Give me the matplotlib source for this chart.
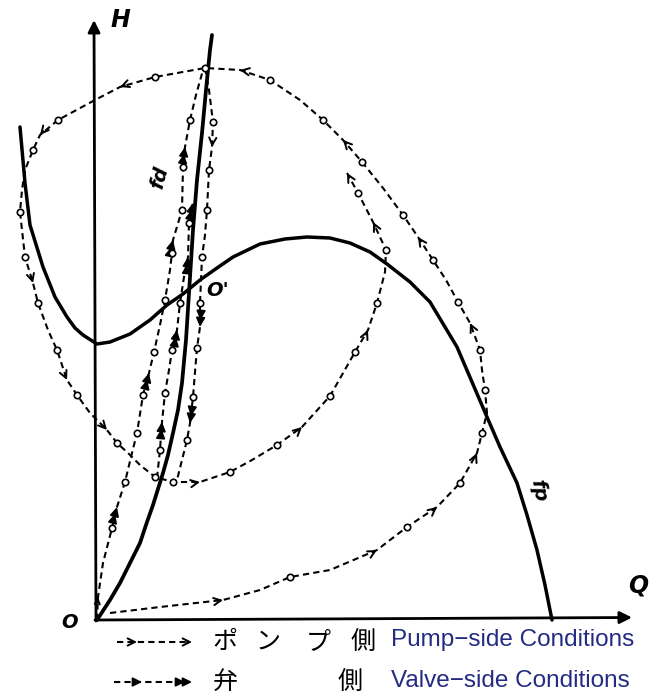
import numpy as np
import matplotlib.pyplot as plt

plt.rcParams['font.family'] = ['DejaVu Sans']

# pump characteristic fp (Q, H)
fp_q = [-15.4, -14.4, -13.4, -10.8, -8.4, -6.0, -4.4, -2.8, 0.0, 2.6, 6.6, 10.6, 14.0, 17.2,
        20.6, 24.0, 27.2, 32.6, 37.6, 42.0, 46.6, 50.6, 54.6, 58.0, 62.6, 66.6, 72.0, 78.0,
        80.6, 84.0, 86.0, 88.0, 89.6, 91.0]
fp_h = [98.6, 87.4, 79.0, 70.6, 64.6, 60.6, 58.4, 57.0, 55.2, 55.6, 57.2, 60.0, 63.0, 65.2,
        68.0, 70.4, 72.6, 75.2, 76.2, 76.6, 76.4, 75.4, 73.6, 71.2, 67.6, 63.6, 54.6, 40.6,
        34.6, 27.4, 21.0, 14.0, 7.0, 0.0]

# valve characteristic fd
fd_q = [0.0, 2.6, 4.6, 6.6, 8.6, 10.0, 11.2, 13.2, 14.2, 15.2, 16.2, 17.0, 17.8, 18.4, 19.2,
        20.0, 21.0, 21.8, 22.6, 23.0]
fd_h = [0.0, 4.0, 7.4, 11.4, 15.4, 19.6, 23.0, 29.4, 33.0, 37.4, 42.0, 47.4, 56.0, 65.4, 78.0,
        88.0, 97.4, 106.0, 114.0, 117.0]

# pump-side trajectory: out along Q, round the top, down the left, back up the middle
pump_q = [2.6, 12.6, 25.2, 32.6, 38.6, 46.6, 56.0, 62.0, 68.0, 72.6, 76.0, 77.0, 78.0, 77.6,
          77.0, 76.6, 74.6, 72.2, 69.8, 67.2, 64.2, 61.2, 57.2, 53.0, 49.2, 45.2, 40.6, 34.6,
          28.6, 21.6, 11.6, 4.6, -0.4, -7.8, -11.4, -12.8, -14.4, -15.0, -15.4, -14.4, -12.8,
          -11.8, -9.8, -8.0, -6.0, -4.0, -1.4, 2.0, 4.0, 6.2, 8.6, 11.6, 15.2, 20.6, 26.6, 31.0,
          36.0, 41.0, 46.6, 51.6, 54.2, 56.0, 57.6, 57.8, 55.2, 52.2, 50.0]
pump_h = [1.4, 2.6, 4.0, 6.0, 8.6, 10.0, 14.0, 18.6, 22.6, 27.4, 33.4, 37.4, 41.4, 46.0,
          50.0, 54.0, 59.4, 63.6, 68.0, 72.0, 76.6, 81.0, 86.4, 91.6, 96.0, 100.0, 104.0, 108.0,
          110.0, 110.4, 108.6, 106.6, 104.0, 100.0, 97.0, 94.0, 90.0, 86.0, 81.6, 72.6, 67.4,
          63.4, 58.0, 54.0, 48.0, 45.0, 41.4, 38.0, 35.4, 33.4, 31.0, 28.6, 27.6, 27.6, 29.6, 32.0,
          35.0, 38.6, 44.8, 53.6, 58.0, 63.4, 69.6, 74.0, 79.6, 85.4, 89.4]
pump_circles = [4, 7, 9, 11, 13, 15, 17, 19, 21, 23, 25, 27, 29, 30, 33, 35, 38, 39, 41, 43,
                45, 48, 51, 52, 54, 56, 58, 59, 61, 63, 65]
pump_arrows = [2, 6, 8, 10, 16, 20, 24, 28, 31, 34, 40, 44, 47, 53, 57, 60, 64, 66]

# valve-side trajectories close to fd
vb_q = [0.0, 0.2, 1.2, 3.0, 4.0, 5.6, 6.8, 8.0, 9.2, 10.4, 11.4, 12.6, 13.6, 14.6, 15.0, 15.2,
        17.0, 17.2, 17.6, 18.6, 19.8, 21.2]
vb_h = [0.0, 4.6, 11.4, 18.4, 22.6, 27.6, 32.6, 37.4, 45.0, 49.4, 53.6, 59.0, 64.0, 70.0, 73.4,
        76.0, 82.0, 90.6, 94.6, 100.0, 105.0, 110.0]
vb_circles = [3, 5, 7, 8, 10, 12, 14, 16, 17, 19]
vb_arrows = [4, 9, 15, 18]

vc_q = [12.0, 12.6, 13.0, 13.6, 14.4, 15.0, 16.0, 16.6, 17.4, 18.2, 18.4, 19.2]
vc_h = [28.4, 34.0, 39.6, 45.4, 50.0, 54.0, 58.0, 63.4, 68.6, 72.6, 79.4, 83.4]
vc_circles = [1, 3, 5, 7, 10]
vc_arrows = [2, 6, 9, 11]

vd_q = [21.6, 22.4, 23.2, 23.0, 22.4, 22.0, 21.6, 21.0, 20.8, 20.6, 20.6, 20.0, 19.6, 19.2,
        18.6, 18.0, 17.0, 16.0]
vd_h = [110.4, 106.0, 99.6, 94.6, 90.0, 82.0, 77.0, 72.6, 68.0, 63.4, 58.6, 54.4, 49.6, 44.6,
        39.4, 36.0, 32.0, 28.0]
vd_circles = [2, 4, 5, 7, 9, 11, 13, 15]
vd_arrows = [10, 14]

DASH = (0, (3, 2.0))


def heads(ax, q, h, idx, style, double=False, size=13):
    q = np.asarray(q, float)
    h = np.asarray(h, float)
    for i in idx:
        j0, j1 = max(i - 1, 0), min(i + 1, len(q) - 1)
        d = np.array([q[j1] - q[j0], h[j1] - h[j0]])
        d /= np.hypot(*d)
        tip = np.array([q[i], h[i]])
        for off in ([0.0, 1.4] if double else [0.0]):
            t = tip - d * off
            ax.annotate('', xy=t, xytext=t - d * 1.0,
                        arrowprops=dict(arrowstyle=style, color='k', lw=1.4,
                                        shrinkA=0, shrinkB=0, mutation_scale=size))


def trajectory(ax, q, h, circles, arrows, style, double):
    ax.plot(q, h, color='k', lw=1.5, ls=DASH)
    ax.plot(np.take(q, circles), np.take(h, circles), 'o', ms=4.6, mfc='white',
            mec='k', mew=1.2, zorder=4)
    heads(ax, q, h, arrows, style, double)


fig = plt.figure(figsize=(6.56, 6.97), dpi=100)
ax = fig.add_axes([0, 0, 1, 1])
ax.set_xlim(-19.4, 111.8)
ax.set_ylim(-15.4, 124.0)
ax.axis('off')

# axes with arrow heads
ax.annotate('', xy=(-0.6, 120.0), xytext=(-0.2, -0.2),
            arrowprops=dict(arrowstyle='-|>', color='k', lw=2.0, mutation_scale=18,
                            shrinkA=0, shrinkB=0))
ax.annotate('', xy=(107.0, 0.5), xytext=(-0.4, 0.0),
            arrowprops=dict(arrowstyle='-|>', color='k', lw=2.0, mutation_scale=18,
                            shrinkA=0, shrinkB=0))

ax.plot(fp_q, fp_h, color='k', lw=2.5, solid_capstyle='round', solid_joinstyle='round')
ax.plot(fd_q, fd_h, color='k', lw=2.7, solid_capstyle='round', solid_joinstyle='round')

trajectory(ax, pump_q, pump_h, pump_circles, pump_arrows, '->', False)
heads(ax, vb_q, vb_h, [1], '->', size=9)
trajectory(ax, vb_q, vb_h, vb_circles, vb_arrows, '-|>', True)
trajectory(ax, vc_q, vc_h, vc_circles, vc_arrows, '-|>', True)
trajectory(ax, vd_q, vd_h, vd_circles, vd_arrows, '-|>', True)
heads(ax, vd_q, vd_h, [3], '->')

lab = dict(fontstyle='italic', fontweight='bold', fontsize=17, color='k',
           ha='center', va='center')
ax.text(4.6, 120.0, 'H', **lab)
ax.text(108.2, 7.0, 'Q', **lab)
small = dict(fontstyle='italic', fontweight='bold', fontsize=14, ha='center', va='center')
ax.text(-5.4, -0.6, 'O', **small)
ax.text(24.2, 66.0, "O'", **small)
ax.text(12.6, 88.4, 'fd', rotation=75, **small)
ax.text(88.2, 26.0, 'fp', rotation=-80, **small)

# key for the two kinds of trajectory
ax.plot([4.0, 18.6], [-4.4, -4.4], color='k', lw=1.5, ls=DASH)
heads(ax, [4.0, 8.0], [-4.4, -4.4], [1], '->')
heads(ax, [14.0, 19.0], [-4.4, -4.4], [1], '->')
ax.plot([3.4, 18.6], [-12.4, -12.4], color='k', lw=1.5, ls=DASH)
heads(ax, [4.0, 9.0], [-12.4, -12.4], [1], '-|>')
heads(ax, [14.0, 19.0], [-12.4, -12.4], [1], '-|>', double=True)

jp = dict(fontsize=18, family=['Noto Sans CJK JP', 'DejaVu Sans'], ha='center', va='center')
for ch, q in zip(['ポ', 'ン', 'プ', '側'], [25.6, 34.2, 44.2, 53.2]):
    ax.text(q, -4.4, ch, **jp)
ax.text(25.6, -12.4, '弁', **jp)
ax.text(50.6, -12.4, '側', **jp)

en = dict(fontsize=17.5, family=['Liberation Sans', 'DejaVu Sans'], color='#232b83',
          ha='left', va='center')
ax.text(58.8, -4.0, 'Pump\u2212side Conditions', **en)
ax.text(58.8, -12.2, 'Valve\u2212side Conditions', **en)

fig.savefig('out.png', dpi=100)
